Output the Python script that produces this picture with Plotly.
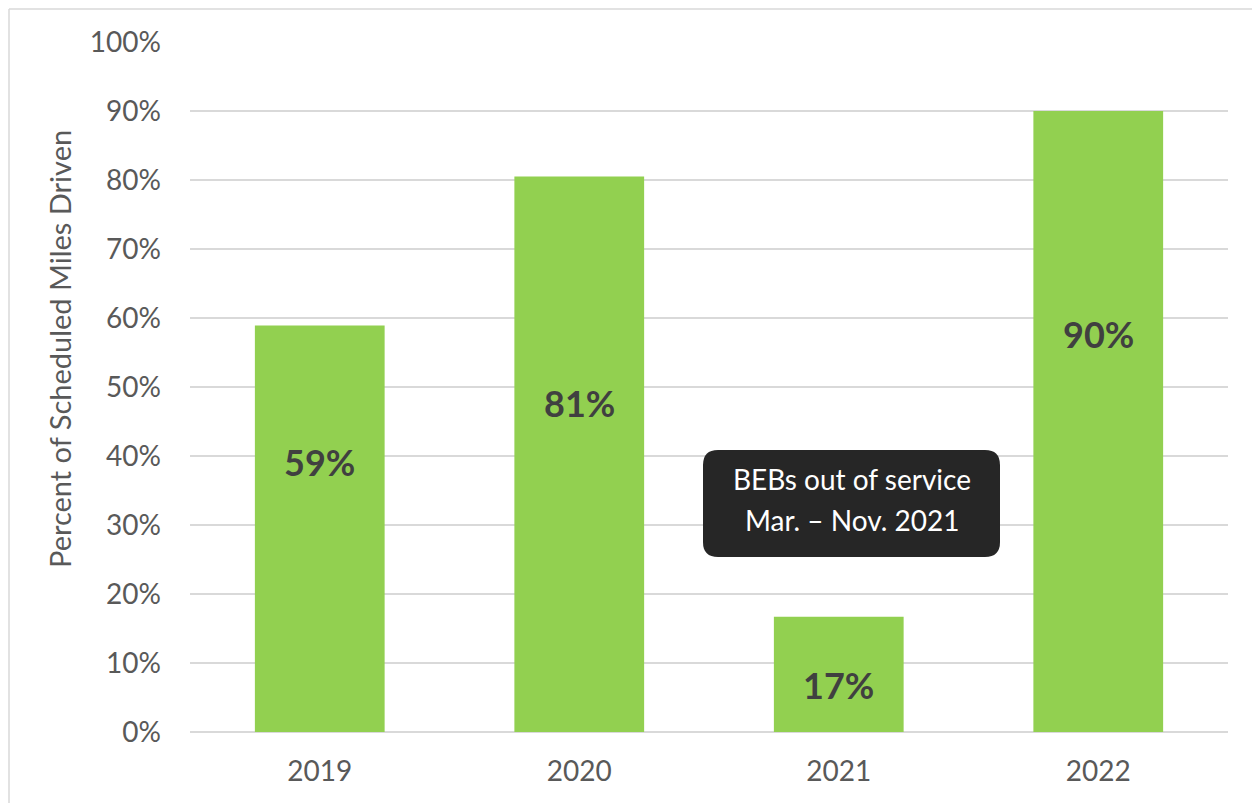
import plotly.graph_objects as go

years = ["2019", "2020", "2021", "2022"]
pct_driven = [58.9, 80.5, 16.7, 90.0]
bar_labels = ["59%", "81%", "17%", "90%"]
label_y = [39.1, 47.7, 6.8, 57.7]
tick_vals = list(range(0, 101, 10))
tick_text = [f"{v}%" for v in tick_vals]
note_lines = ["BEBs out of service", "Mar. – Nov. 2021"]

W, H = 1252, 803
ML, MR, MT, MB = 190, 24, 42, 71
PW, PH = W - ML - MR, H - MT - MB

def px(x):
    return (x - ML) / PW

def py(y):
    return (H - MB - y) / PH

FONT = "Lato"
fig = go.Figure()
fig.add_trace(go.Bar(
    x=years, y=pct_driven, marker=dict(color="#92D050", line=dict(width=0)),
    width=0.5, hoverinfo="skip",
))

for i, (lab, ly) in enumerate(zip(bar_labels, label_y)):
    fig.add_annotation(x=i, y=ly, text=f"<b>{lab}</b>", showarrow=False,
                       xanchor="center", yanchor="middle",
                       font=dict(family=FONT, size=36, color="#404040"),
                       xref="x", yref="y")

# rounded note box
x0, x1, y0, y1 = px(703), px(1000), py(557), py(450)
rx, ry = 15 / PW, 15 / PH
path = (f"M {x0+rx},{y1} L {x1-rx},{y1} Q {x1},{y1} {x1},{y1-ry} "
        f"L {x1},{y0+ry} Q {x1},{y0} {x1-rx},{y0} L {x0+rx},{y0} "
        f"Q {x0},{y0} {x0},{y0+ry} L {x0},{y1-ry} Q {x0},{y1} {x0+rx},{y1} Z")
fig.add_shape(type="path", path=path, xref="paper", yref="paper",
              fillcolor="#262626", line=dict(width=0), layer="above")
for i, line in enumerate(note_lines):
    fig.add_annotation(x=px(851.5), y=py(479 + 41 * i), xref="paper", yref="paper",
                       text=line, showarrow=False, xanchor="center", yanchor="middle",
                       font=dict(family=FONT, size=28, color="#ffffff"))

# outer frame lines
fig.add_shape(type="line", xref="paper", yref="paper", x0=px(9), x1=px(1260),
              y0=py(9), y1=py(9), line=dict(color="#d9d9d9", width=1.5))
fig.add_shape(type="line", xref="paper", yref="paper", x0=px(9), x1=px(9),
              y0=py(9), y1=py(810), line=dict(color="#d9d9d9", width=1.5))

# y axis title
fig.add_annotation(x=px(59), y=py(349), xref="paper", yref="paper",
                   text="Percent of Scheduled Miles Driven", textangle=-90,
                   showarrow=False, xanchor="center", yanchor="middle",
                   font=dict(family=FONT, size=29, color="#595959"))

fig.update_layout(
    width=W, height=H, margin=dict(l=ML, r=MR, t=MT, b=MB),
    paper_bgcolor="white", plot_bgcolor="white", showlegend=False,
    xaxis=dict(type="category", range=[-0.5, 3.5], showgrid=False, showline=False,
               ticks="", zeroline=False,
               tickfont=dict(family=FONT, size=28, color="#595959"),
               ticklabelstandoff=20),
    yaxis=dict(range=[0, 100], tickvals=tick_vals, ticktext=tick_text,
               showgrid=True, gridcolor="#d9d9d9", gridwidth=1.5,
               zeroline=True, zerolinecolor="#d9d9d9", zerolinewidth=1.5,
               showline=False, ticks="",
               tickfont=dict(family=FONT, size=28, color="#595959"),
               ticklabelstandoff=28),
)

fig.write_html("out.html")
